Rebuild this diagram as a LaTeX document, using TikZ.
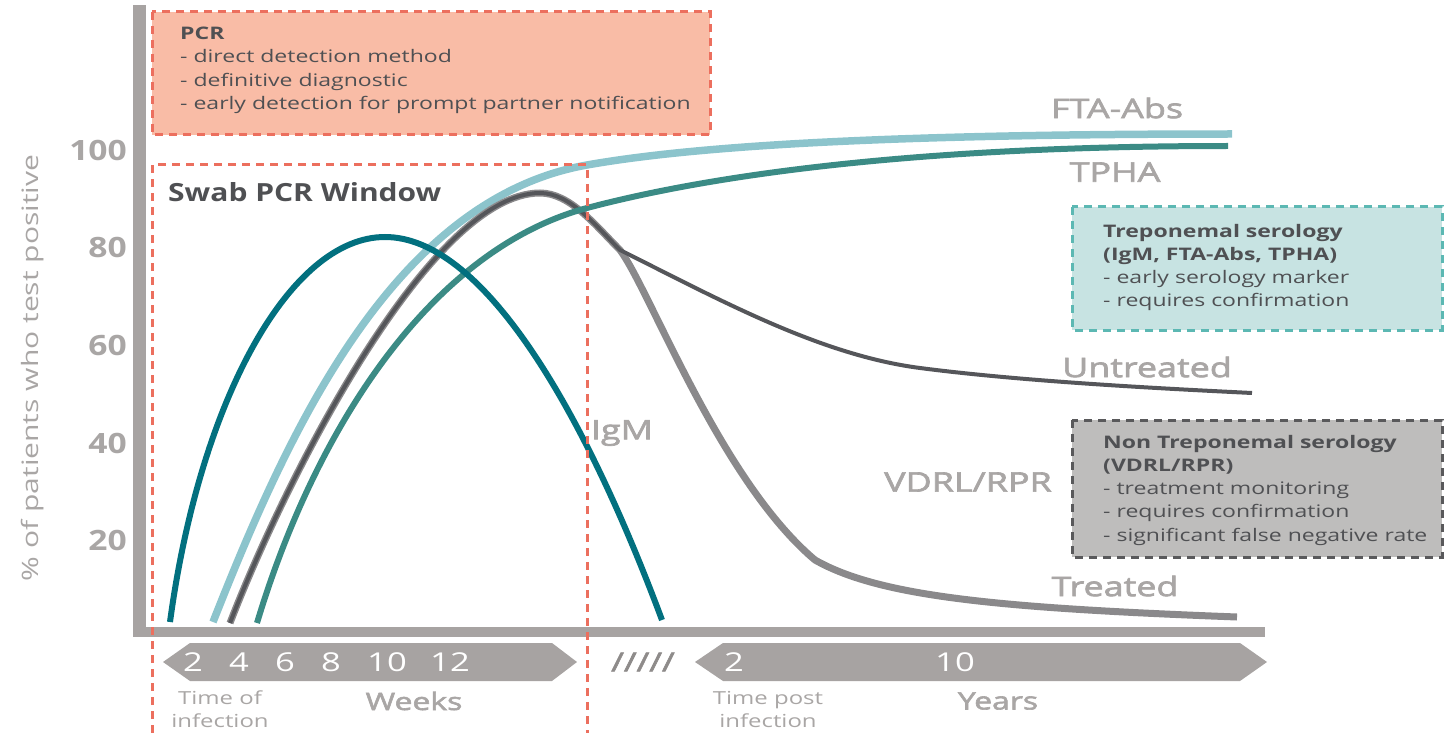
\documentclass[tikz,border=0pt]{standalone}
\usepackage{fontspec}
\setmainfont{Open Sans}[FakeStretch=1.33]
\newfontfamily\semib{Open Sans}[FakeStretch=1.33,FakeBold=2.5]
\newfontfamily\boldn{Open Sans}[FakeStretch=1.2]
\usetikzlibrary{positioning}
\definecolor{axgray}{HTML}{A7A3A2}
\definecolor{lblgray}{HTML}{A9A6A5}
\definecolor{slashgray}{HTML}{8E8B8A}
\definecolor{txtdark}{HTML}{4F5053}
\definecolor{pcrfill}{HTML}{F9BCA6}
\definecolor{pcrline}{HTML}{EC6F5E}
\definecolor{trefill}{HTML}{C7E3E2}
\definecolor{treline}{HTML}{5CB8B3}
\definecolor{nonfill}{HTML}{BEBDBC}
\definecolor{nonline}{HTML}{59595B}
\definecolor{igmcol}{HTML}{02707F}
\definecolor{ftacol}{HTML}{8CC4CC}
\definecolor{tphacol}{HTML}{3B8B85}
\definecolor{vdrldark}{HTML}{55565A}
\definecolor{vdrlgray}{HTML}{8A898B}
\tikzset{
  axbar/.style={fill=axgray},
  tline/.style={fill=axgray},   % time arrows under the axis
  dsh/.style={line width=3pt,dash pattern=on 8pt off 6pt},
  wdash/.style={dsh,draw=pcrline},
  pcrbox/.style={dsh,fill=pcrfill,draw=pcrline},
  trebox/.style={dsh,fill=trefill,draw=treline},
  nonbox/.style={dsh,fill=nonfill,draw=nonline},
  boxtxt/.style={anchor=north west,align=left,inner sep=0pt,text=txtdark,
    font=\fontsize{17.3}{23.2}\selectfont},
  lbl/.style={text=lblgray,inner sep=0pt,font=\semib\fontsize{27}{30}\selectfont},
  ticklbl/.style={text=lblgray,inner sep=0pt,anchor=east,font=\boldn\bfseries\fontsize{28}{30}\selectfont},
  tnum/.style={text=white,inner sep=0pt,font=\fontsize{26}{28}\selectfont},
  smalllbl/.style={text=lblgray,inner sep=0pt,align=center,font=\fontsize{18}{23}\selectfont},
  unitlbl/.style={text=lblgray,inner sep=0pt,font=\semib\fontsize{24}{26}\selectfont},
  curve/.style={line width=6pt},
}

\begin{document}
\begin{tikzpicture}[x=1pt,y=-1pt]
  \useasboundingbox (0,0) rectangle (1444,733);

  % axes
  \fill[axbar] (133,5) rectangle (146,637);
  \fill[axbar] (133,627) rectangle (1265,637);
  \foreach \v/\yy in {100/150,80/247,60/345,40/443,20/540}
    \node[ticklbl] (t\v) at (127,\yy) {\v};
  \node[rotate=90,text=lblgray,inner sep=0pt,font=\fontsize{22.6}{24}\selectfont]
    (ytitle) at (33,368) {\% of patients who test positive};

  % time arrows
  \fill[tline] (163,662) -- (190,643) -- (552,643) -- (577,662) -- (552,681) -- (190,681) -- cycle;
  \fill[tline] (695,662) -- (723,643) -- (1240,643) -- (1267,662) -- (1240,681) -- (723,681) -- cycle;
  \foreach \n/\xx in {2/193,4/239,6/285,8/331,10/387,12/450}
    \node[tnum] (w\n) at (\xx,662) {\n};
  \node[tnum] (y2) at (734,662) {2};
  \node[tnum] (y10) at (955,662) {10};
  \node[text=slashgray,inner sep=0pt,font=\semib\fontsize{26}{28}\selectfont] (brk) at (643,662) {/////};
  \node[smalllbl] (toi) at (220,709) {Time of\\infection};
  \node[smalllbl] (tpi) at (768,709) {Time post\\infection};
  \node[unitlbl] (weeks) at (414,701) {Weeks};
  \node[unitlbl] (years) at (998,701) {Years};

  % info boxes
  \draw[pcrbox] (152,12) rectangle (710,135);
  \node[boxtxt] (pcr) at (180,27) {\textbf{PCR}\\- direct detection method\\- definitive diagnostic\\
    - early detection for prompt partner notification};
  \draw[trebox] (1072,207) rectangle (1442,330);
  \node[boxtxt] (tre) at (1103,224) {\textbf{Treponemal serology}\\\textbf{(IgM, FTA-Abs, TPHA)}\\
    - early serology marker\\- requires confirmation};
  \draw[nonbox] (1072,420) rectangle (1442,557);
  \node[boxtxt] (non) at (1103,435) {\textbf{Non Treponemal serology}\\\textbf{(VDRL/RPR)}\\
    - treatment monitoring\\- requires confirmation\\- significant false negative rate};

  % curves
  \draw[curve,ftacol,line width=7.5pt] (213,622) .. controls (285,440) and (390,200) .. (587,165)
    .. controls (700,145) and (900,134) .. (1232,134);
  \draw[curve,vdrlgray,line width=7pt] (230,623) .. controls (285,480) and (430,193) .. (540,193)
    .. controls (570,193) and (595,225) .. (620,250)
    .. controls (650,290) and (720,480) .. (815,560)
    .. controls (880,597) and (1000,608) .. (1237,617);
  \draw[vdrldark,line width=4pt] (230,623) .. controls (285,480) and (430,193) .. (540,193)
    .. controls (570,193) and (595,225) .. (620,250)
    .. controls (720,300) and (820,355) .. (920,368)
    .. controls (1020,381) and (1150,388) .. (1252,393);
  \draw[curve,tphacol] (257,623) .. controls (315,430) and (430,250) .. (587,208)
    .. controls (700,178) and (900,146) .. (1228,146);
  \draw[curve,igmcol] (170,622) .. controls (200,400) and (290,237) .. (385,237)
    .. controls (480,237) and (580,400) .. (662,620);

  % swab window
  \draw[wdash] (152,733) -- (152,165) -- (587,165) -- (587,733);
  \node[anchor=west,inner sep=0pt,text=txtdark,font=\boldn\bfseries\fontsize{25}{27}\selectfont]
    (swab) at (168,192) {Swab PCR Window};

  % curve labels
  \node[lbl] (fta) at (1117,108) {FTA-Abs};
  \node[lbl] (tpha) at (1115,172) {TPHA};
  \node[lbl] (untr) at (1147,367) {Untreated};
  \node[lbl] (treat) at (1115,586) {Treated};
  \node[lbl] (vdrl) at (968,482) {VDRL/RPR};
  \node[lbl] (igm) at (622,433) {IgM};
\end{tikzpicture}
\end{document}
